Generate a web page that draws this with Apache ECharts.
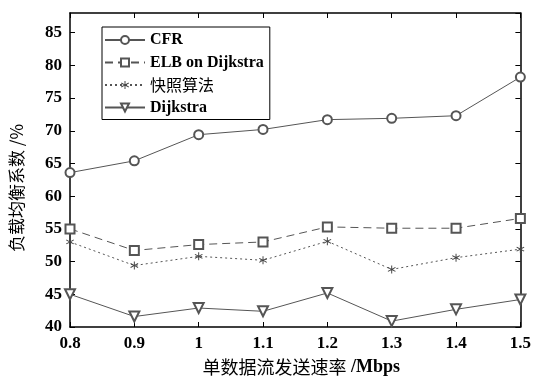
<!DOCTYPE html>
<html><head><meta charset="utf-8">
<script src="https://cdn.jsdelivr.net/npm/echarts@6/dist/echarts.min.js"></script>
<style>html,body{margin:0;padding:0;background:#fff}#c{width:534px;height:381px}</style>
</head><body><div id="c"></div>
<script>
var xValues = [0.8, 0.9, 1.0, 1.1, 1.2, 1.3, 1.4, 1.5];
var cfr = [63.6, 65.4, 69.4, 70.2, 71.7, 71.9, 72.3, 78.2];
var elb = [55.0, 51.7, 52.6, 53.0, 55.3, 55.1, 55.1, 56.6];
var snapshot = [53.0, 49.4, 50.8, 50.2, 53.1, 48.8, 50.6, 51.9];
var dijkstra = [45.0, 41.6, 42.9, 42.4, 45.2, 40.9, 42.7, 44.2];
var seriesNames = ['CFR', 'ELB on Dijkstra', '快照算法', 'Dijkstra'];
var xNameCn = '单数据流发送速率';
var xNameUnit = ' /Mbps';
var yName = '负载均衡系数 /%';

function pairs(arr){ return arr.map(function(v,i){ return [xValues[i], v]; }); }
var serif = '"Liberation Serif","Noto Sans CJK SC",serif';
var cjk = '"Noto Sans CJK SC",serif';
var asterisk = 'path://M4.5,0 L5.5,0 L5.5,3.6 L8.6,1.8 L9.1,2.7 L6,4.5 L9.1,6.3 L8.6,7.2 L5.5,5.4 L5.5,9 L4.5,9 L4.5,5.4 L1.4,7.2 L0.9,6.3 L4,4.5 L0.9,2.7 L1.4,1.8 L4.5,3.6 Z';
var lineCol = '#555';
var chart = echarts.init(document.getElementById('c'));
var axisCommon = {
  axisLine:{show:true, onZero:false, lineStyle:{color:'#000', width:1.5}},
  axisTick:{show:true, inside:true, length:5, lineStyle:{color:'#000'}},
  splitLine:{show:false}
};
chart.setOption({
  animation:false,
  grid:{left:70, right:10, top:13, bottom:49},
  legend:{
    orient:'vertical', left:102, top:27, padding:[5,6,4,2],
    backgroundColor:'#fff', borderColor:'#000', borderWidth:1,
    itemWidth:40, itemHeight:10, itemGap:6.5,
    formatter:function(n){ return /[\u4e00-\u9fff]/.test(n) ? '{cn|' + n + '}' : '{en|' + n + '}'; },
    textStyle:{color:'#000', rich:{
      cn:{fontFamily:cjk, fontSize:16, color:'#000', height:20},
      en:{fontFamily:serif, fontWeight:'bold', fontSize:16, color:'#000', height:20}
    }},
    data:seriesNames
  },
  xAxis:[
    Object.assign({type:'value', min:0.8, max:1.5, interval:0.1, position:'bottom',
      name:'{cn|' + xNameCn + '}{en|' + xNameUnit + '}', nameLocation:'middle', nameGap:31,
      nameTextStyle:{padding:[0,0,0,12], rich:{
        cn:{fontFamily:cjk, fontSize:18, color:'#000'},
        en:{fontFamily:serif, fontSize:18, fontWeight:'bold', color:'#000'}
      }},
      axisLabel:{fontFamily:serif, fontWeight:'bold', fontSize:17, color:'#000', margin:8}
    }, axisCommon),
    Object.assign({type:'value', min:0.8, max:1.5, interval:0.1, position:'top',
      axisLabel:{show:false}}, axisCommon)
  ],
  yAxis:[
    Object.assign({type:'value', min:40, max:88, interval:5, position:'left',
      name:yName, nameLocation:'middle', nameGap:45,
      nameTextStyle:{fontFamily:cjk, fontSize:17, color:'#000', padding:[0,36,0,0]},
      axisLabel:{fontFamily:serif, fontWeight:'bold', fontSize:17, color:'#000', margin:8, showMaxLabel:false}
    }, axisCommon),
    Object.assign({type:'value', min:40, max:88, interval:5, position:'right',
      axisLabel:{show:false}}, axisCommon)
  ],
  series:[
    {name:seriesNames[0], type:'line', data:pairs(cfr), symbol:'emptyCircle', symbolSize:9,
      lineStyle:{color:lineCol, width:1}, itemStyle:{color:lineCol, borderWidth:1}},
    {name:seriesNames[1], type:'line', data:pairs(elb), symbol:'emptyRect', symbolSize:9,
      lineStyle:{color:lineCol, width:1, type:[8,5]}, itemStyle:{color:lineCol, borderWidth:1}},
    {name:seriesNames[2], type:'line', data:pairs(snapshot), symbol:asterisk, symbolSize:8,
      lineStyle:{color:lineCol, width:1, type:[2,3]}, itemStyle:{color:'#444'}},
    {name:seriesNames[3], type:'line', data:pairs(dijkstra), symbol:'emptyTriangle', symbolRotate:180, symbolSize:10,
      lineStyle:{color:lineCol, width:1}, itemStyle:{color:lineCol, borderWidth:1}}
  ]
});
</script></body></html>
